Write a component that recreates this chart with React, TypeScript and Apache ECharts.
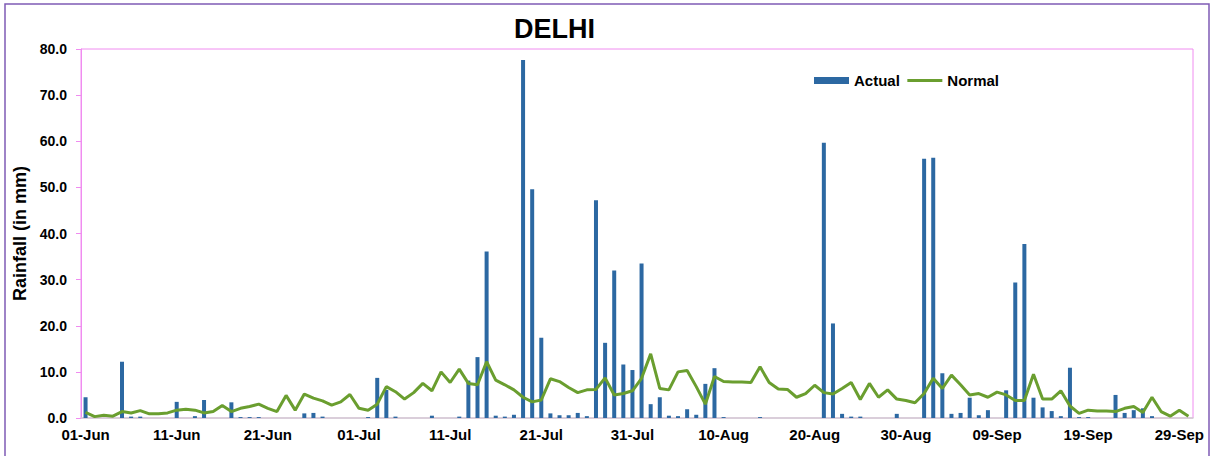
import React, { useEffect, useRef } from "react";
import * as echarts from "echarts";

const MONTHS: [string, number][] = [
  ["Jun", 30],
  ["Jul", 31],
  ["Aug", 31],
  ["Sep", 30],
];
const categories: string[] = MONTHS.flatMap(([m, n]) =>
  Array.from({ length: n }, (_, d) => `${String(d + 1).padStart(2, "0")}-${m}`)
);

const actual: number[] = [
  4.5, 0, 0, 0, 12.2, 0.3, 0.3, 0, 0, 0,
  3.5, 0, 0.4, 3.9, 0, 0, 3.4, 0.2, 0.2, 0.2,
  0, 0, 0, 0, 1.0, 1.1, 0.3, 0, 0, 0,
  0, 0.2, 8.7, 6.1, 0.3, 0, 0, 0, 0.5, 0,
  0, 0.3, 8.1, 13.2, 36.1, 0.5, 0.3, 0.7, 77.6, 49.6,
  17.4, 1.0, 0.6, 0.6, 1.1, 0.4, 47.2, 16.3, 32.0, 11.6,
  10.4, 33.5, 3.0, 4.5, 0.5, 0.4, 1.9, 0.7, 7.4, 10.8,
  0.2, 0, 0, 0, 0.2, 0, 0, 0, 0, 0,
  0, 59.7, 20.5, 0.9, 0.3, 0.3, 0, 0, 0, 0.9,
  0, 0, 56.2, 56.4, 9.7, 0.9, 1.1, 4.4, 0.6, 1.7,
  0, 6.0, 29.4, 37.7, 4.4, 2.3, 1.5, 0.4, 10.9, 0.2,
  0.2, 0, 0, 5.0, 1.1, 1.7, 2.1, 0.4, 0, 0,
  0, 0,
];

const normal: number[] = [
  1.2, 0.3, 0.6, 0.4, 1.4, 1.1, 1.6, 0.9, 0.9, 1.1,
  1.7, 1.9, 1.7, 1.1, 1.4, 2.7, 1.4, 2.1, 2.5, 3.0,
  2.1, 1.4, 4.9, 1.7, 5.2, 4.3, 3.7, 2.8, 3.5, 5.1,
  2.1, 1.7, 3.0, 6.8, 5.7, 4.1, 5.5, 7.5, 5.9, 10.0,
  7.7, 10.6, 7.5, 7.2, 12.2, 8.2, 7.2, 6.1, 4.5, 3.5,
  3.9, 8.5, 7.9, 6.6, 5.5, 6.1, 6.2, 8.7, 5.0, 5.3,
  5.9, 8.6, 13.9, 6.4, 6.1, 10.0, 10.3, 6.8, 3.0, 9.0,
  7.9, 7.8, 7.8, 7.7, 11.1, 7.7, 6.3, 6.2, 4.5, 5.3,
  7.1, 5.5, 5.2, 6.4, 7.7, 4.0, 7.5, 4.5, 6.1, 4.1,
  3.8, 3.3, 5.3, 8.6, 6.4, 9.3, 7.2, 5.0, 5.3, 4.5,
  5.6, 5.0, 3.8, 3.8, 9.5, 4.1, 4.1, 5.9, 2.6, 1.0,
  1.7, 1.5, 1.5, 1.4, 2.1, 2.5, 1.2, 4.5, 1.4, 0.4,
  1.7, 0.4,
];

const FONT = "'Liberation Sans', Arial, sans-serif";

export default function App() {
  const ref = useRef<HTMLDivElement>(null);
  useEffect(() => {
    if (!ref.current) return;
    const chart = echarts.init(ref.current, null, { renderer: "svg" });
    chart.setOption({
      animation: false,
      backgroundColor: "#ffffff",
      title: {
        text: "DELHI",
        left: 509,
        top: 10,
        textStyle: { fontFamily: FONT, fontSize: 27, fontWeight: "bold", color: "#000" },
      },
      legend: {
        left: 809,
        top: 68,
        itemWidth: 35,
        itemHeight: 7,
        itemGap: 6,
        textStyle: { fontFamily: FONT, fontSize: 15, fontWeight: "bold", color: "#000" },
        data: [
          { name: "Actual", icon: "rect" },
          {
            name: "Normal",
            itemStyle: { opacity: 0 },
            lineStyle: { width: 3, color: "#6A9E2F" },
          },
        ],
      },
      graphic: [
        {
          type: "rect",
          shape: { x: 5, y: 4, width: 1204, height: 470 },
          style: { fill: "none", stroke: "#7F5BB5", lineWidth: 1.5 },
          silent: true,
        },
      ],
      grid: {
        left: 81,
        right: 17,
        top: 49,
        bottom: 38,
        show: true,
        borderColor: "#F08CF0",
        borderWidth: 1,
      },
      xAxis: {
        type: "category",
        data: categories,
        boundaryGap: true,
        axisLine: { lineStyle: { color: "#D0D0D0", width: 1.5 } },
        axisTick: { show: false },
        axisLabel: {
          interval: 9,
          margin: 9,
          fontFamily: FONT,
          fontSize: 15,
          fontWeight: "bold",
          color: "#000",
        },
        splitLine: { show: false },
      },
      yAxis: {
        type: "value",
        min: 0,
        max: 80,
        interval: 10,
        name: "Rainfall (in mm)",
        nameLocation: "middle",
        nameRotate: 90,
        nameGap: 48,
        nameTextStyle: { fontFamily: FONT, fontSize: 18, fontWeight: "bold", color: "#000" },
        axisLine: { show: true, lineStyle: { color: "#F08CF0", width: 1 } },
        axisTick: { show: true, length: 5, lineStyle: { color: "#F08CF0" } },
        axisLabel: {
          margin: 14,
          fontFamily: FONT,
          fontSize: 14,
          fontWeight: "bold",
          color: "#000",
          formatter: (v: number) => v.toFixed(1),
        },
        splitLine: { show: false },
      },
      series: [
        {
          name: "Actual",
          type: "bar",
          data: actual,
          barWidth: 4,
          itemStyle: { color: "#2C68A2" },
        },
        {
          name: "Normal",
          type: "line",
          data: normal,
          symbol: "none",
          lineStyle: { color: "#6A9E2F", width: 3 },
          itemStyle: { color: "#6A9E2F" },
        },
      ],
    });
    return () => chart.dispose();
  }, []);
  return (
    <div
      ref={ref}
      style={{ position: "fixed", left: 0, top: 0, width: 1210, height: 456 }}
    />
  );
}
